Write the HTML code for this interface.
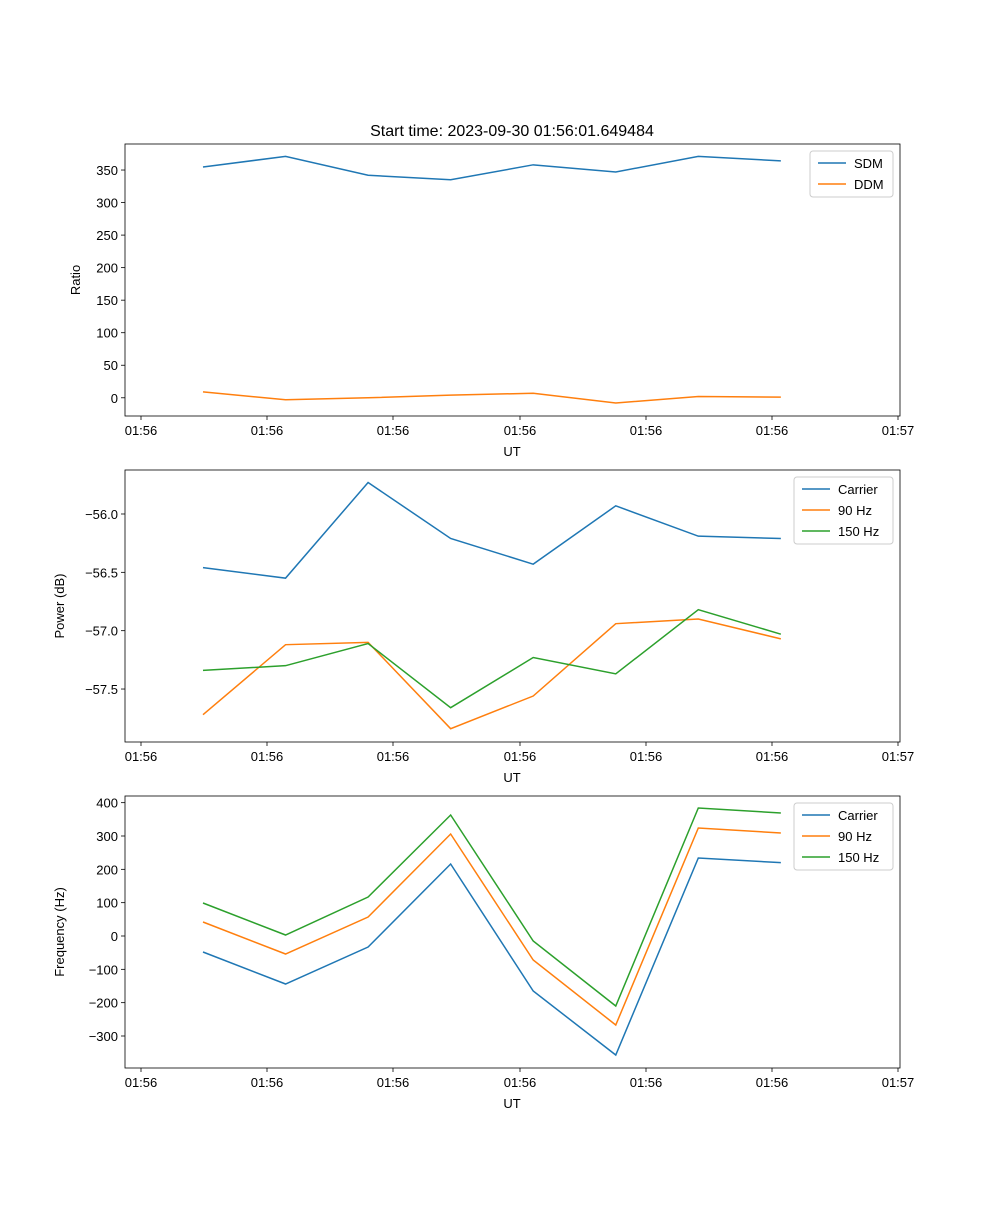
<!DOCTYPE html>
<html><head><meta charset="utf-8"><style>body{margin:0;background:#fff}svg text{font-family:"Liberation Sans","DejaVu Sans",sans-serif;fill:#000}</style></head>
<body>
<svg id="fig" width="1000" height="1200" xmlns="http://www.w3.org/2000/svg"></svg>
<script>
const xTickLabels=["01:56","01:56","01:56","01:56","01:56","01:56","01:57"];
const sdm=[354.6,371,342,335,358,347,371,364];
const ddm=[9,-3,0,4,7,-8,2,1];
const pCarrier=[-56.46,-56.55,-55.73,-56.21,-56.43,-55.93,-56.19,-56.21];
const p90=[-57.72,-57.12,-57.10,-57.84,-57.56,-56.94,-56.90,-57.07];
const p150=[-57.34,-57.30,-57.11,-57.66,-57.23,-57.37,-56.82,-57.03];
const fCarrier=[-48,-144,-33,216,-165,-357,234,220];
const f90=[42,-54,57,306,-72,-267,324,309];
const f150=[99,3,117,363,-15,-210,384,369];
const ticks1=[0,50,100,150,200,250,300,350];
const ticks2=[-57.5,-57.0,-56.5,-56.0];
const ticks3=[-300,-200,-100,0,100,200,300,400];

const NS="http://www.w3.org/2000/svg";
const svg=document.getElementById('fig');
function el(t,a,p){const e=document.createElementNS(NS,t);for(const k in a)e.setAttribute(k,a[k]);(p||svg).appendChild(e);return e;}
const L=125,R=900;
const xs=i=>203+i*82.55;
const xTickPos=[141,267,393,520,646,772,898];
const C=['#1f77b4','#ff7f0e','#2ca02c'];

function panel(name,top,bot,vmin,vmax,ticks,fmt,ylabel,series,labels,legW,legR){
  const g=el('g',{});
  
  
  const ys=v=>bot-(v-vmin)/(vmax-vmin)*(bot-top);
  series.forEach((s,k)=>{
    const pl=el('polyline',{points:s.map((v,i)=>xs(i)+','+ys(v)).join(' '),fill:'none',stroke:C[k],'stroke-width':1.5},g);
    
    
  });
  el('rect',{x:L,y:top,width:R-L,height:bot-top,fill:'none',stroke:'#000','stroke-width':0.8},g);
  xTickLabels.forEach((t,i)=>{
    el('line',{x1:xTickPos[i],x2:xTickPos[i],y1:bot,y2:bot+4,stroke:'#000','stroke-width':0.8},g);
    const tx=el('text',{x:xTickPos[i],y:bot+19,'font-size':13,'text-anchor':'middle'},g);tx.textContent=t;
  });
  const xl=el('text',{x:512,y:bot+40,'font-size':13,'text-anchor':'middle'},g);xl.textContent='UT';
  ticks.forEach(t=>{
    const y=ys(t);
    el('line',{x1:L-4,x2:L,y1:y,y2:y,stroke:'#000','stroke-width':0.8},g);
    const tx=el('text',{x:L-7,y:y+5,'font-size':13,'text-anchor':'end'},g);tx.textContent=fmt(t);
  });
  const yl=el('text',{x:0,y:0,'font-size':13,'text-anchor':'middle',transform:`translate(${name==='ratio-panel'?80:64},${(top+bot)/2}) rotate(-90)`},g);yl.textContent=ylabel;
  const lg=el('g',{},g);
  
  
  const lh=labels.length*21+4;
  el('rect',{x:legR-legW,y:top+7,width:legW,height:lh,fill:'#fff',stroke:'#ccc',rx:3},lg);
  labels.forEach((lab,k)=>{
    const y=top+7+12+k*21;
    el('line',{x1:legR-legW+8,x2:legR-legW+36,y1:y,y2:y,stroke:C[k],'stroke-width':1.5},lg);
    const tx=el('text',{x:legR-legW+44,y:y+5,'font-size':13},lg);tx.textContent=lab;
  });
}
const m='\u2212';
panel('ratio-panel',144,416,-28,390,ticks1,t=>t<0?m+(-t):String(t),'Ratio',[sdm,ddm],['SDM','DDM'],83,893);
panel('power-panel',470,742,-57.954,-55.623,ticks2,t=>m+(-t).toFixed(1),'Power (dB)',[pCarrier,p90,p150],['Carrier','90 Hz','150 Hz'],99,893);
panel('frequency-panel',796,1068,-396,420,ticks3,t=>t<0?m+(-t):String(t),'Frequency (Hz)',[fCarrier,f90,f150],['Carrier','90 Hz','150 Hz'],99,893);
const title=el('text',{x:512,y:136,'font-size':16,'text-anchor':'middle'});


title.textContent='Start time: 2023-09-30 01:56:01.649484';
</script>
</body></html>
